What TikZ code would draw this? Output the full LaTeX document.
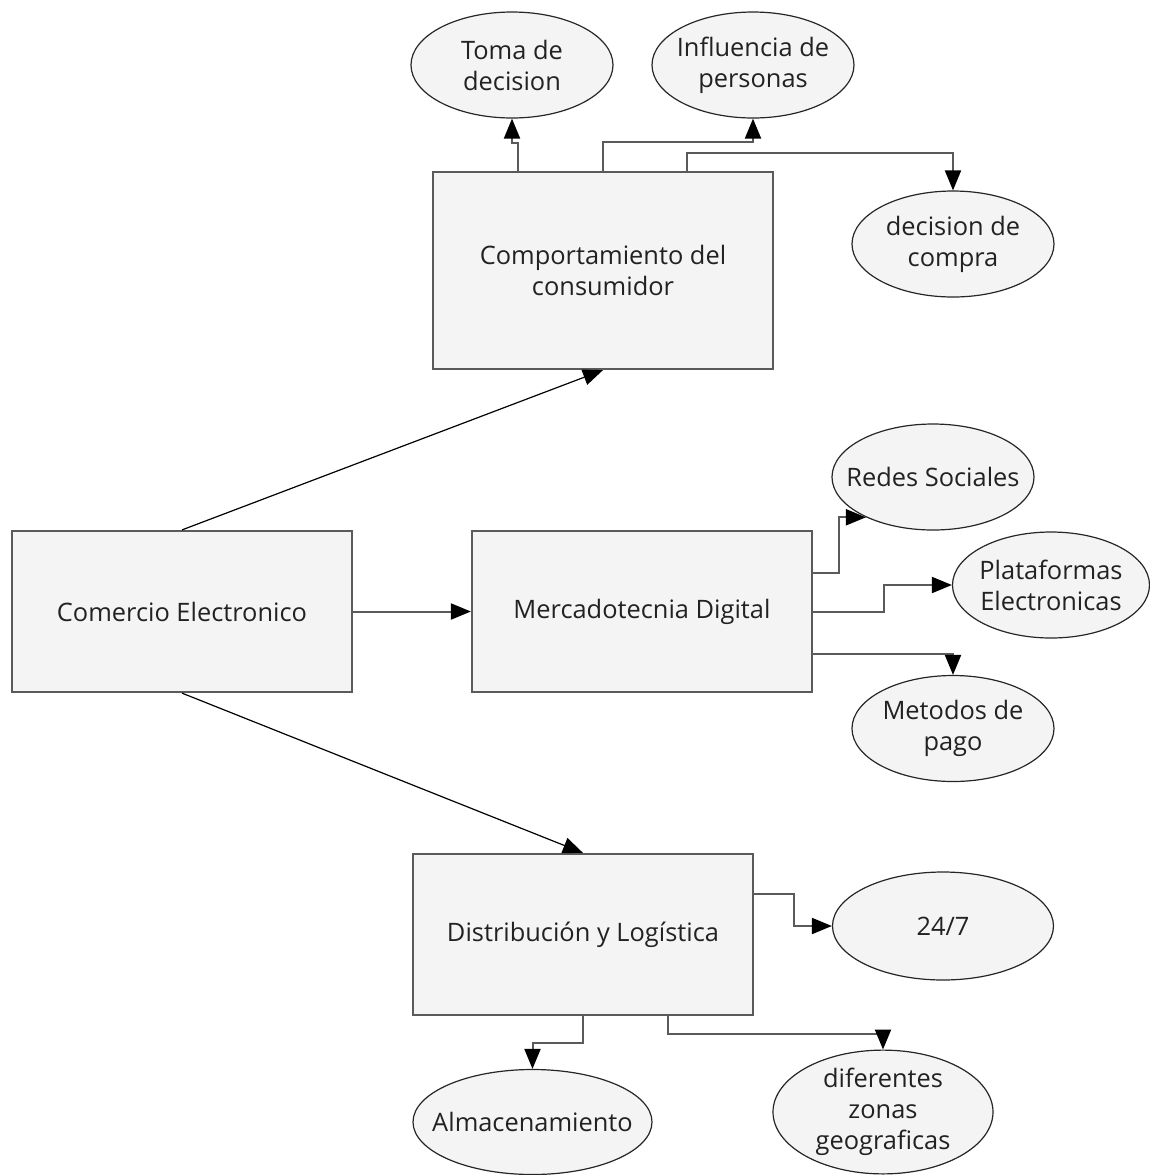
\documentclass[tikz,border=0pt]{standalone}
\usepackage{fontspec}
\setmainfont{Open Sans}
\usetikzlibrary{shapes.geometric,arrows.meta,calc}
\definecolor{fondo}{HTML}{F4F4F4}
\definecolor{borde}{HTML}{5A5A5A}
\definecolor{texto}{HTML}{222222}
\begin{document}
\begin{tikzpicture}[x=0.5pt,y=-0.5pt,
	every node/.style={align=center,font=\fontsize{12.7}{15.5}\selectfont,text=texto},
	caja/.style={draw=borde,line width=1.1pt,fill=fondo,minimum width=170pt,minimum height=80.5pt},
	elipse/.style={ellipse,draw=black!85,line width=0.6pt,fill=fondo,inner ysep=0pt,inner xsep=-10pt,minimum width=101pt,minimum height=53pt},
	conn/.style={draw=borde,line width=1pt,-{Triangle[length=10pt,width=8pt,color=black]}},
	diag/.style={draw=black,line width=0.6pt,-{Triangle[length=10pt,width=8pt]}}]
	\useasboundingbox (0,0) rectangle (1150,1175);
	% cajas
	\node[caja] (cE) at (182,611.5) {Comercio Electronico};
	\node[caja] (mD) at (642,611.5) {Mercadotecnia Digital};
	\node[caja,minimum height=98.5pt] (cC) at (603,270.5) {Comportamiento del\\ consumidor};
	\node[caja] (dL) at (583,934.5) {Distribución y Logística};
	% elipses
	\node[elipse] (tD) at (512,65) {Toma de\\ decision};
	\node[elipse] (iP) at (753,65) {Influencia de\\ personas};
	\node[elipse] (dC) at (953,244) {decision de\\ compra};
	\node[elipse] (rS) at (933,477) {Redes Sociales};
	\node[elipse,minimum width=98.5pt] (pE) at (1051,585) {Plataformas\\ Electronicas};
	\node[elipse] (mP) at (953,728.5) {Metodos de\\ pago};
	\node[elipse,minimum width=110.5pt,minimum height=54pt] (tS) at (943,926) {24/7};
	\node[elipse,minimum width=119.5pt,minimum height=52.5pt] (aL) at (532.5,1122) {Almacenamiento};
	\node[elipse,minimum width=110pt,minimum height=60pt] (dZ) at (883,1112) {diferentes\\ zonas\\ geograficas};
	% conectores
	\draw[diag] (cE.north) -- (cC.south);
	\draw[conn] (cE.east) -- (mD.west);
	\draw[diag] (cE.south) -- (dL.north);
	\draw[conn] ($(cC.north)+(-85,0)$) -- ++(0,-28) -| (tD.south);
	\draw[conn] (cC.north) -- ++(0,-29) -| (iP.south);
	\draw[conn] ($(cC.north)+(84,0)$) -- ++(0,-18) -| (dC.north);
	\draw[conn] ($(mD.east)+(0,-39)$) -- ++(26,0) |- (rS.211);
	\draw[conn] (mD.east) -- ++(71,0) |- (pE.west);
	\draw[conn] ($(mD.east)+(0,42)$) -| (mP.north);
	\draw[conn] ($(dL.east)+(0,-41)$) -- ++(40,0) |- (tS.west);
	\draw[conn] (dL.south) -- ++(0,27) -| (aL.north);
	\draw[conn] ($(dL.south)+(85,0)$) -- ++(0,18) -| (dZ.north);
\end{tikzpicture}
\end{document}
